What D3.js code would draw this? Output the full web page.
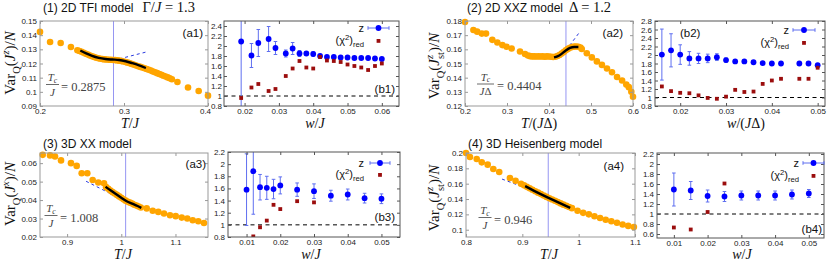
<!DOCTYPE html>
<html>
<head>
<meta charset="utf-8">
<script src="https://cdn.jsdelivr.net/npm/d3@7"></script>
<style>
body { margin: 0; background: #fff; }
svg { display: block; }
</style>
</head>
<body>
<script>
// ---- (a1) 2D TFI, Var_Q(J^z)/N vs T/J
const a1T = [0.200,0.212,0.2246,0.2368,
  0.2445,0.247,0.2495,0.252,0.2545,0.257,0.2595,0.262,0.2645,0.267,0.2695,0.272,0.2745,0.277,0.2795,0.282,
  0.2845,0.287,0.2895,0.292,0.2945,0.297,0.2995,0.302,0.3045,0.307,0.3095,0.312,0.3145,0.317,0.3195,0.322,
  0.3245,0.327,0.3295,0.332,0.3345,0.337,0.3395,0.342,0.3445,0.347,0.3495,0.352,0.3545,0.357,
  0.3636,0.3762,0.3889,0.400];
const a1V = [0.1423,0.1352,0.1345,0.1317,
  0.1294,0.1288,0.1283,0.1276,0.1269,0.1263,0.1257,0.1251,0.1246,0.1241,0.1237,0.1234,0.1231,0.1229,0.1228,0.1227,
  0.1226,0.1225,0.1224,0.1222,0.1220,0.1217,0.1214,0.1210,0.1206,0.1201,0.1196,0.1191,0.1186,0.1181,0.1176,0.1171,
  0.1166,0.1161,0.1156,0.1150,0.1144,0.1138,0.1132,0.1126,0.1120,0.1114,0.1108,0.1102,0.1096,0.1089,
  0.1069,0.1031,0.1006,0.0973];
const a1FitT = [0.248,0.255,0.262,0.270,0.278,0.286,0.294,0.302,0.310,0.318,0.326];
const a1FitV = [0.1292,0.1271,0.1254,0.1240,0.1232,0.1228,0.1225,0.1216,0.1202,0.1186,0.1168];
const a1TanT = [0.2875,0.327];
const a1TanV = [0.1222,0.1282];
const a1Tc = 0.2875;

// ---- (a2) 2D XXZ
const a2T = [0.200,0.220,0.229,0.240,0.250,0.265,0.277,0.289,0.299,0.311,0.331,0.343,0.350,
  0.355,0.360,0.365,0.370,0.375,0.380,0.385,0.390,0.395,0.400,0.405,0.410,
  0.415,0.420,0.425,0.430,0.435,0.440,0.445,0.450,0.455,0.460,0.465,0.470,0.475,
  0.478,0.490,0.502,0.514,0.526,0.538,0.550,0.562,0.574,0.584,0.590,0.596,0.600];
const a2V = [0.1793,0.1737,0.1725,0.1711,0.1711,0.1667,0.1648,0.1630,0.1618,0.1606,0.1585,0.1567,0.1556,
  0.1552,0.1550,0.1550,0.1549,0.1550,0.1549,0.1550,0.1548,0.1550,0.1549,0.1548,0.1546,
  0.1548,0.1553,0.1560,0.1570,0.1581,0.1593,0.1603,0.1611,0.1616,0.1619,0.1620,0.1618,0.1613,
  0.1602,0.1572,0.1543,0.1515,0.1490,0.1465,0.1438,0.1405,0.1380,0.1352,0.1333,0.1300,0.1265];
const a2FitT = [0.412,0.420,0.430,0.440,0.450,0.460,0.470];
const a2FitV = [0.1543,0.1550,0.1568,0.1592,0.1610,0.1617,0.1617];
const a2TanT = [0.4404,0.472];
const a2TanV = [0.1593,0.1718];
const a2Tc = 0.4404;

// ---- (a3) 3D XX
const a3T = [0.855,0.8685,0.8777,0.8888,0.9072,0.9177,0.9269,0.9373,0.9472,0.9576,0.9681,
  0.972,0.976,0.980,0.984,0.988,0.992,0.996,1.000,1.004,1.008,1.012,1.016,1.020,1.024,1.028,1.032,1.036,
  1.0469,1.058,1.0683,1.0788,1.0899,1.1004,1.1115,1.1218,1.1318,1.1421,1.1526];
const a3V = [0.0645,0.0642,0.0636,0.0615,0.0600,0.0585,0.0545,0.0545,0.0509,0.0495,0.0491,
  0.0470,0.0461,0.0452,0.0443,0.0436,0.0428,0.0420,0.0412,0.0404,0.0397,0.0391,0.0386,0.0381,0.0375,0.0370,0.0365,0.0360,
  0.0355,0.0342,0.0336,0.0327,0.0318,0.0313,0.0305,0.0300,0.0291,0.0285,0.0276];
const a3FitT = [0.971,0.980,0.990,1.000,1.010,1.020,1.030,1.037];
const a3FitV = [0.0472,0.0453,0.0433,0.0413,0.0394,0.0381,0.0368,0.0358];
const a3TanT = [0.935,1.000];
const a3TanV = [0.0502,0.0405];
const a3Tc = 1.008;

// ---- (a4) 3D Heisenberg
const a4T = [0.800,0.807,0.819,0.828,0.8385,0.8485,0.859,0.878,0.888,0.8977,
  0.903,0.908,0.913,0.918,0.923,0.928,0.933,0.938,0.943,0.948,0.953,0.958,0.963,0.968,0.973,0.978,0.983,0.988,
  0.998,1.008,1.018,1.028,1.038,1.048,1.058,1.068,1.078,1.088,1.098];
const a4V = [0.2000,0.1948,0.1922,0.1878,0.1848,0.1791,0.1752,0.1674,0.1639,0.1600,
  0.1578,0.1559,0.1540,0.1521,0.1502,0.1483,0.1464,0.1446,0.1428,0.1411,0.1394,0.1377,0.1360,0.1343,0.1327,0.1311,0.1296,0.1281,
  0.1248,0.1220,0.1200,0.1175,0.1152,0.1130,0.1110,0.1090,0.1068,0.1050,0.1035];
const a4FitT = [0.905,0.920,0.940,0.960,0.985];
const a4FitV = [0.1568,0.1510,0.1438,0.1370,0.1285];
const a4TanT = [0.864,0.930];
const a4TanV = [0.1660,0.1478];
const a4Tc = 0.946;

// ---- (b) panels: exponent z with errors, reduced chi^2
const b1W = [0.019,0.022,0.024,0.027,0.029,0.032,0.034,0.036,0.038,0.040,0.042,0.044,0.046,0.048,0.050,0.052,0.054,0.056,0.058,0.060];
const b1Z = [2.09,1.81,2.06,2.14,1.96,1.85,1.95,1.85,1.85,1.84,1.80,1.78,1.78,1.77,1.77,1.76,1.76,1.76,1.75,1.74];
const b1Err = [1.30,0.24,0.27,0.25,0.13,0.07,0.12,0.06,0.04,0.04,0.03,0.03,0.03,0.03,0.03,0.03,0.03,0.03,0.03,0.03];
const b1Chi = [0.96,1.17,1.24,1.10,1.14,1.40,1.55,1.70,1.57,1.55,1.78,1.71,1.70,1.68,1.63,1.60,1.57,1.52,1.60,1.65];

const b2W = [0.016,0.018,0.020,0.022,0.024,0.026,0.028,0.030,0.032,0.034,0.036,0.038,0.040,0.042,0.046,0.048,0.050];
const b2Z = [2.01,2.11,2.01,1.92,1.92,1.92,1.95,1.88,1.85,1.85,1.83,1.81,1.80,1.80,1.80,1.80,1.76];
const b2Err = [0.60,0.39,0.23,0.16,0.12,0.10,0.08,0.05,0.03,0.03,0.03,0.03,0.03,0.03,0.03,0.03,0.03];
const b2Chi = [1.26,1.15,1.11,1.10,1.05,0.99,0.97,1.02,1.18,1.13,1.14,1.32,1.40,1.44,1.44,1.44,1.70];

const b3W = [0.010,0.012,0.014,0.016,0.018,0.020,0.025,0.030,0.035,0.040,0.045,0.050];
const b3Z = [1.58,1.885,1.62,1.61,1.59,1.65,1.58,1.555,1.48,1.50,1.44,1.43];
const b3Err = [0.59,0.71,0.21,0.19,0.16,0.14,0.11,0.12,0.09,0.09,0.08,0.08];
const b3ChiW = [0.012,0.014,0.016,0.018,0.020,0.025,0.030];
const b3Chi = [0.81,0.96,1.07,1.33,1.26,1.39,1.37];

const b4W = [0.010,0.015,0.020,0.025,0.030,0.035,0.040,0.045,0.050];
const b4Z = [1.49,1.47,1.36,1.35,1.37,1.37,1.37,1.39,1.41];
const b4Err = [0.33,0.18,0.12,0.10,0.09,0.09,0.09,0.09,0.08];
const b4ChiW = [0.010,0.015,0.020,0.025];
const b4Chi = [0.73,0.69,1.04,1.61];

// tick values
const a1XTicks = [0.2,0.3,0.4], a1YTicks = [0.09,0.1,0.11,0.12,0.13,0.14,0.15];
const a2XTicks = [0.2,0.3,0.4,0.5,0.6], a2YTicks = [0.12,0.13,0.14,0.15,0.16,0.17,0.18];
const a3XTicks = [0.9,1,1.1], a3YTicks = [0.02,0.03,0.04,0.05,0.06];
const a4XTicks = [0.8,0.9,1,1.1], a4YTicks = [0.1,0.12,0.14,0.16,0.18,0.2];
const b1XTicks = [0.02,0.03,0.04,0.05,0.06], b1YTicks = [0.8,1,1.2,1.4,1.6,1.8,2,2.2,2.4];
const b2XTicks = [0.02,0.03,0.04,0.05], b2YTicks = [0.8,1,1.2,1.4,1.6,1.8,2,2.2,2.4,2.6,2.8];
const b3XTicks = [0.01,0.02,0.03,0.04,0.05], b3YTicks = [0.8,1,1.2,1.4,1.6,1.8,2,2.2];
const b4XTicks = [0.01,0.02,0.03,0.04,0.05], b4YTicks = [0.6,0.8,1,1.2,1.4,1.6,1.8,2,2.2];

const SANS = "'Liberation Sans', Arial, sans-serif";
const SERIF = "'Liberation Serif', 'Times New Roman', serif";
const ORANGE = "#ffa500", BLUE = "#0000ff", ERRBLUE = "#5f6ff0", DRED = "#9b0d0d";
const fmt = d3.format("~g");

const svg = d3.select("body").append("svg").attr("width", 830).attr("height", 263);

// text with sub/superscripts built from tspans
function rich(t, parts, size) {
  let cur = 0;
  parts.forEach(p => {
    const off = p.sub ? size * (p.subOff || 0.3) : p.sup ? -size * 0.4 : 0;
    const ts = t.append("tspan").text(p.t)
      .attr("dy", off - cur)
      .attr("font-size", (p.sub || p.sup) ? size * 0.7 : size);
    if (p.it) ts.attr("font-style", "italic");
    if (p.dx) ts.attr("dx", p.dx);
    if (p.fam) ts.attr("font-family", p.fam);
    cur = off;
  });
  return t;
}

function axes(sx, sy, xt, yt, col) {
  const [x0, x1] = sx.range(), [yb, ytop] = sy.range();
  const g = svg.append("g");
  const list = [
    [d3.axisBottom(sx).tickValues(xt).tickFormat(fmt).tickPadding(2), `translate(0,${yb})`, "xb"],
    [d3.axisTop(sx).tickValues(xt).tickFormat(""), `translate(0,${ytop})`, "xt"],
    [d3.axisLeft(sy).tickValues(yt).tickFormat(fmt).tickPadding(3), `translate(${x0},0)`, "yl"],
    [d3.axisRight(sy).tickValues(yt).tickFormat(""), `translate(${x1},0)`, "yr"]
  ];
  list.forEach(([a, tr, cls]) => {
    const s = g.append("g").attr("class", cls).attr("transform", tr).call(a.tickSizeInner(-3).tickSizeOuter(0));
    s.select(".domain").remove();
    s.selectAll("line").attr("stroke", col);
    s.selectAll("text").attr("font-family", SANS).attr("font-size", 8).attr("fill", "#222");
  });
  g.append("rect").attr("x", x0).attr("y", ytop).attr("width", x1 - x0).attr("height", yb - ytop)
    .attr("fill", "none").attr("stroke", col).attr("stroke-width", 1);
  return g;
}

function panelA(box, xd, yd, xt, yt, T, V, fitT, fitV, tanT, tanV, tc) {
  const sx = d3.scaleLinear().domain(xd).range([box[0], box[2]]);
  const sy = d3.scaleLinear().domain(yd).range([box[3], box[1]]);
  const g = svg.append("g");
  g.append("line").attr("x1", sx(tc)).attr("x2", sx(tc)).attr("y1", box[1]).attr("y2", box[3])
    .attr("stroke", "#8a8af0").attr("stroke-width", 0.9);
  const line = d3.line().x(d => sx(d[0])).y(d => sy(d[1]));
  g.append("path").attr("d", line(d3.zip(tanT, tanV))).attr("fill", "none")
    .attr("stroke", "#2a3adf").attr("stroke-width", 1).attr("stroke-dasharray", "3,3");
  g.selectAll("circle").data(d3.zip(T, V)).join("circle")
    .attr("cx", d => sx(d[0])).attr("cy", d => sy(d[1])).attr("r", 3.3).attr("fill", ORANGE);
  g.append("path").attr("d", line.curve(d3.curveMonotoneX)(d3.zip(fitT, fitV))).attr("fill", "none")
    .attr("stroke", "#000").attr("stroke-width", 2.4);
  return axes(sx, sy, xt, yt, "#999");
}

let clipN = 0;
function panelB(box, xd, yd, xt, yt, W, Z, E, CW, C) {
  const sx = d3.scaleLinear().domain(xd).range([box[0], box[2]]);
  const sy = d3.scaleLinear().domain(yd).range([box[3], box[1]]);
  const id = "clipb" + (clipN++);
  svg.append("clipPath").attr("id", id).append("rect")
    .attr("x", box[0]).attr("y", box[1]).attr("width", box[2] - box[0]).attr("height", box[3] - box[1]);
  const g = svg.append("g").attr("clip-path", `url(#${id})`);
  g.append("line").attr("x1", box[0]).attr("x2", box[2]).attr("y1", sy(1)).attr("y2", sy(1))
    .attr("stroke", "#000").attr("stroke-width", 1).attr("stroke-dasharray", "4,3.5");
  const pts = d3.zip(W, Z, E);
  const eb = g.selectAll("g.eb").data(pts).join("g").attr("class", "eb");
  eb.append("line").attr("x1", d => sx(d[0])).attr("x2", d => sx(d[0]))
    .attr("y1", d => sy(d[1] - d[2])).attr("y2", d => sy(d[1] + d[2]))
    .attr("stroke", ERRBLUE).attr("stroke-width", 1);
  [-1, 1].forEach(s => eb.append("line")
    .attr("x1", d => sx(d[0]) - 1.8).attr("x2", d => sx(d[0]) + 1.8)
    .attr("y1", d => sy(d[1] + s * d[2])).attr("y2", d => sy(d[1] + s * d[2]))
    .attr("stroke", ERRBLUE).attr("stroke-width", 1));
  g.selectAll("circle").data(pts).join("circle")
    .attr("cx", d => sx(d[0])).attr("cy", d => sy(d[1])).attr("r", 2.9).attr("fill", BLUE);
  g.selectAll("rect.chi").data(d3.zip(CW, C)).join("rect").attr("class", "chi")
    .attr("x", d => sx(d[0]) - 1.9).attr("y", d => sy(d[1]) - 1.9).attr("width", 3.8).attr("height", 3.8)
    .attr("fill", DRED);
  return axes(sx, sy, xt, yt, "#555");
}

function legendB(xEnd, yz, ychi, lx0, lx1) {
  const cx = (lx0 + lx1) / 2;
  svg.append("text").attr("x", xEnd).attr("y", yz + 3.5).attr("text-anchor", "end")
    .attr("font-family", SANS).attr("font-size", 11).attr("fill", "#111").text("z");
  svg.append("line").attr("x1", lx0).attr("x2", lx1).attr("y1", yz).attr("y2", yz).attr("stroke", ERRBLUE);
  [lx0, lx1].forEach(x => svg.append("line").attr("x1", x).attr("x2", x).attr("y1", yz - 1.8).attr("y2", yz + 1.8).attr("stroke", ERRBLUE));
  svg.append("circle").attr("cx", cx).attr("cy", yz).attr("r", 2.9).attr("fill", BLUE);
  const t = svg.append("text").attr("x", xEnd).attr("y", ychi + 2).attr("text-anchor", "end")
    .attr("font-family", SANS).attr("fill", "#111");
  rich(t, [{t: "(χ"}, {t: "2", sup: true}, {t: ")"}, {t: "red", sub: true}], 11);
  svg.append("rect").attr("x", cx - 1.9).attr("y", ychi - 3).attr("width", 3.8).attr("height", 3.8).attr("fill", DRED);
}

function label(x, y, txt, anchor) {
  svg.append("text").attr("x", x).attr("y", y).attr("text-anchor", anchor || "start")
    .attr("font-family", SANS).attr("font-size", 11.5).attr("fill", "#111").text(txt);
}

function xlab(x, y, parts) {
  const t = svg.append("text").attr("x", x).attr("y", y).attr("text-anchor", "middle")
    .attr("font-family", SERIF).attr("fill", "#111");
  rich(t, parts, 14);
}

function ylab(x, y, parts) {
  const t = svg.append("text").attr("transform", `translate(${x},${y}) rotate(-90)`)
    .attr("text-anchor", "middle").attr("font-family", SERIF).attr("fill", "#111");
  rich(t, parts, 15);
}

function title(x, y, txt, math, gap) {
  const t = svg.append("text").attr("x", x).attr("y", y).attr("font-family", SANS).attr("font-size", 12).attr("fill", "#111");
  t.append("tspan").text(txt);
  const m = t.append("tspan").attr("font-family", SERIF).attr("font-size", 14.5).attr("dx", gap || 6);
  if (math) math.forEach(p => { const s = m.append("tspan").text(p.t); if (p.it) s.attr("font-style", "italic"); });
}

// Tc = value annotation: fraction T_c / den, then "= value"
function tcFrac(cx, yBar, den, barW, eqX, val) {
  const g = svg.append("g").attr("font-family", SERIF).attr("fill", "#444");
  const n = g.append("text").attr("x", cx).attr("y", yBar - 3.5).attr("text-anchor", "middle");
  rich(n, [{t: "T", it: true}, {t: "c", sub: true, it: true, subOff: 0.18}], 11);
  g.append("line").attr("x1", cx - barW / 2).attr("x2", cx + barW / 2).attr("y1", yBar).attr("y2", yBar)
    .attr("stroke", "#444").attr("stroke-width", 0.8);
  const d = g.append("text").attr("x", cx).attr("y", yBar + 11).attr("text-anchor", "middle");
  rich(d, den, 11);
  g.append("text").attr("x", eqX).attr("y", yBar + 6).attr("font-size", 12.5).text("= " + val);
}

// ---- panels
const axA1 = panelA([40, 21, 208, 106], [0.2, 0.4], [0.09, 0.15], a1XTicks, a1YTicks, a1T, a1V, a1FitT, a1FitV, a1TanT, a1TanV, a1Tc);
// last x label of (a1) sits against the y labels of (b1): nudge it left a little
axA1.selectAll(".xb text").filter((d, i, n) => i === n.length - 1).attr("dx", -3);
panelB([224, 21, 399, 106], [0.014, 0.065], [0.8, 2.5], b1XTicks, b1YTicks, b1W, b1Z, b1Err, b1W, b1Chi)
  .selectAll(".yl text").attr("x", -2);
panelA([465, 21, 633, 106], [0.2, 0.6], [0.12, 0.18], a2XTicks, a2YTicks, a2T, a2V, a2FitT, a2FitV, a2TanT, a2TanV, a2Tc);
panelB([655, 21, 825, 106], [0.0145, 0.0516], [0.8, 2.8], b2XTicks, b2YTicks, b2W, b2Z, b2Err, b2W, b2Chi);
panelA([40, 153, 208, 237], [0.85, 1.16], [0.02, 0.0655], a3XTicks, a3YTicks, a3T, a3V, a3FitT, a3FitV, a3TanT, a3TanV, a3Tc);
panelB([228, 152, 400, 237], [0.0045, 0.0555], [0.8, 2.2], b3XTicks, b3YTicks, b3W, b3Z, b3Err, b3ChiW, b3Chi);
panelA([466, 153, 635, 237], [0.8, 1.1], [0.0905, 0.2], a4XTicks, a4YTicks, a4T, a4V, a4FitT, a4FitV, a4TanT, a4TanV, a4Tc);
panelB([657, 153, 824, 238], [0.005, 0.0545], [0.52, 2.22], b4XTicks, b4YTicks, b4W, b4Z, b4Err, b4ChiW, b4Chi);

// legends and panel tags
legendB(364, 28, 42, 368, 389);
legendB(789, 30, 44, 793, 815);
legendB(364, 163, 176, 370, 390);
legendB(799, 163, 177, 803, 824);
label(203, 37, "(a1)", "end");
label(623, 37, "(a2)", "end");
label(206, 168, "(a3)", "end");
label(624, 170, "(a4)", "end");
label(395, 93, "(b1)", "end");
label(680, 37, "(b2)", "start");
label(395, 221, "(b3)", "end");
label(822, 233, "(b4)", "end");

// titles
title(43, 11.5, "(1) 2D TFI model", [{t: "Γ/"}, {t: "J", it: true}, {t: " = 1.3"}], 9);
title(467, 11.5, "(2) 2D XXZ model", [{t: "Δ = 1.2"}], 6);
title(43, 148, "(3) 3D XX model");
title(468, 148, "(4) 3D Heisenberg model");

// Tc annotations
tcFrac(52.5, 84.5, [{t: "J", it: true}], 13, 61, "0.2875");
tcFrac(485.5, 84, [{t: "J", it: true}, {t: "Δ"}], 17, 497, "0.4404");
tcFrac(51, 215.5, [{t: "J", it: true}], 13, 60, "1.008");
tcFrac(485, 217.5, [{t: "J", it: true}], 13, 494, "0.946");

// axis titles
xlab(130, 127.5, [{t: "T", it: true}, {t: "/"}, {t: "J", it: true}]);
xlab(315, 127.5, [{t: "w", it: true}, {t: "/"}, {t: "J", it: true}]);
xlab(539, 127.5, [{t: "T", it: true}, {t: "/("}, {t: "J", it: true}, {t: "Δ)"}]);
xlab(746, 127.5, [{t: "w", it: true}, {t: "/("}, {t: "J", it: true}, {t: "Δ)"}]);
xlab(123, 258.5, [{t: "T", it: true}, {t: "/"}, {t: "J", it: true}]);
xlab(311, 258.5, [{t: "w", it: true}, {t: "/"}, {t: "J", it: true}]);
xlab(549, 258.5, [{t: "T", it: true}, {t: "/"}, {t: "J", it: true}]);
xlab(742, 258.5, [{t: "w", it: true}, {t: "/"}, {t: "J", it: true}]);

ylab(15, 63, [{t: "Var"}, {t: "Q", sub: true}, {t: "("}, {t: "J", it: true}, {t: "z", sup: true, it: true}, {t: ")/"}, {t: "N", it: true}]);
ylab(439, 66, [{t: "Var"}, {t: "Q", sub: true}, {t: "("}, {t: "J", it: true}, {t: "z", sup: true, it: true}, {t: "st", sub: true, dx: -4}, {t: ")/"}, {t: "N", it: true}]);
ylab(15, 194, [{t: "Var"}, {t: "Q", sub: true}, {t: "("}, {t: "J", it: true}, {t: "x", sup: true, it: true}, {t: ")/"}, {t: "N", it: true}]);
ylab(439, 198, [{t: "Var"}, {t: "Q", sub: true}, {t: "("}, {t: "J", it: true}, {t: "z", sup: true, it: true}, {t: "st", sub: true, dx: -4}, {t: ")/"}, {t: "N", it: true}]);
</script>
</body>
</html>
